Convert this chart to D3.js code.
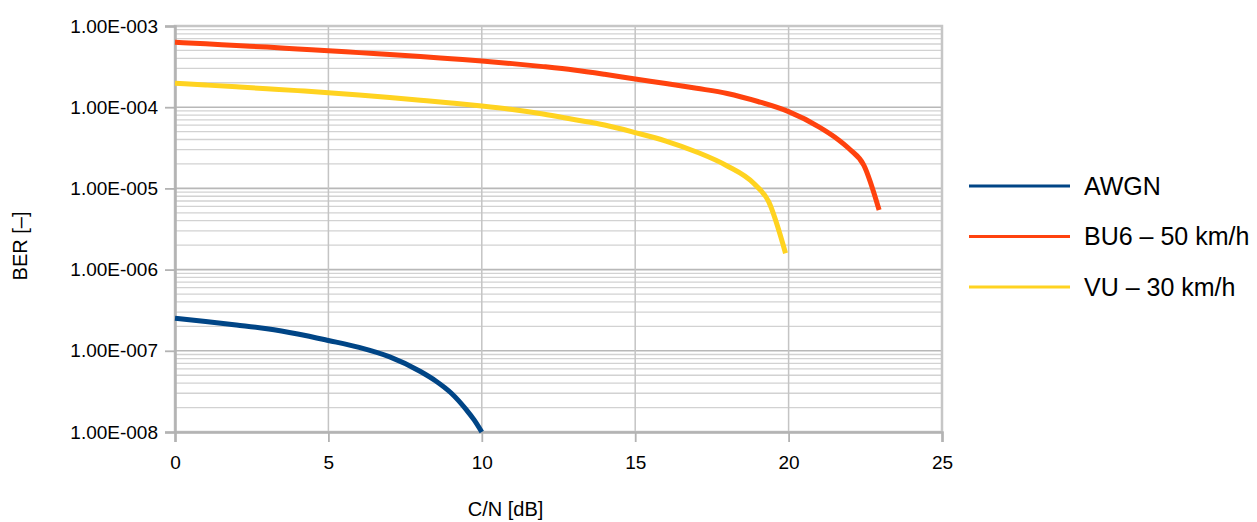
<!DOCTYPE html>
<html>
<head>
<meta charset="utf-8">
<script src="https://cdn.jsdelivr.net/npm/d3@7"></script>
<style>
  html, body { margin: 0; padding: 0; background: #fff; }
  svg { display: block; font-family: "Liberation Sans", Arial, sans-serif; }
</style>
</head>
<body>
<svg id="chart" width="1257" height="522"></svg>
<script>
// ---- data ----
const seriesNames = ["AWGN", "BU6 \u2013 50 km/h", "VU \u2013 30 km/h"];
const seriesColors = ["#004586", "#ff420e", "#ffd320"];

const awgnX = [0, 1, 2, 3, 4, 5, 6, 7, 8, 8.5, 9, 9.5, 9.75, 10];
const awgnY = [2.51e-7, 2.30e-7, 2.08e-7, 1.87e-7, 1.61e-7, 1.34e-7, 1.10e-7, 8.4e-8, 5.56e-8, 4.25e-8, 3.02e-8, 1.87e-8, 1.41e-8, 1.0e-8];

const bu6X = [0, 1, 2, 3, 4, 5, 6, 7, 8, 9, 10, 11, 12, 13, 14, 15, 16, 17, 18, 19, 20, 21, 21.5, 22, 22.45, 22.95];
const bu6Y = [6.30e-4, 6.03e-4, 5.75e-4, 5.50e-4, 5.22e-4, 4.97e-4, 4.70e-4, 4.46e-4, 4.21e-4, 3.95e-4, 3.71e-4, 3.44e-4, 3.16e-4, 2.87e-4, 2.54e-4, 2.22e-4, 1.96e-4, 1.71e-4, 1.476e-4, 1.175e-4, 8.81e-5, 5.70e-5, 4.30e-5, 3.01e-5, 1.94e-5, 5.42e-6];

const vuX = [0, 1, 2, 3, 4, 5, 6, 7, 8, 9, 10, 11, 12, 13, 14, 15, 16, 17, 18, 18.86, 19.35, 19.9];
const vuY = [1.968e-4, 1.875e-4, 1.782e-4, 1.690e-4, 1.600e-4, 1.510e-4, 1.413e-4, 1.315e-4, 1.219e-4, 1.127e-4, 1.035e-4, 9.37e-5, 8.24e-5, 7.06e-5, 6.04e-5, 4.87e-5, 3.83e-5, 2.81e-5, 1.89e-5, 1.156e-5, 6.86e-6, 1.59e-6];

const xTicks = [0, 5, 10, 15, 20, 25];
const yTicks = [1e-3, 1e-4, 1e-5, 1e-6, 1e-7, 1e-8];
const yTickLabels = ["1.00E-003", "1.00E-004", "1.00E-005", "1.00E-006", "1.00E-007", "1.00E-008"];
const xTitle = "C/N [dB]";
const yTitle = "BER [\u2013]";

// ---- layout ----
const svg = d3.select("#chart");
const L = 175, R = 942, T = 26, B = 432;
const x = d3.scaleLinear().domain([0, 25]).range([L, R]);
const y = d3.scaleLog().domain([1e-8, 1e-3]).range([B, T]);

// minor grid
const minor = [];
for (let e = -8; e < -3; e++) for (let m = 2; m <= 9; m++) minor.push(m * Math.pow(10, e));
svg.append("g").selectAll("line").data(minor).join("line")
  .attr("x1", L).attr("x2", R)
  .attr("y1", d => y(d)).attr("y2", d => y(d))
  .attr("stroke", "#d2d2d2").attr("stroke-width", 1.3);

// major horizontal grid
svg.append("g").selectAll("line").data(yTicks).join("line")
  .attr("x1", L).attr("x2", R)
  .attr("y1", d => y(d)).attr("y2", d => y(d))
  .attr("stroke", "#b8b8b8").attr("stroke-width", 1.6);

// vertical grid
svg.append("g").selectAll("line").data(xTicks).join("line")
  .attr("x1", d => x(d)).attr("x2", d => x(d))
  .attr("y1", T).attr("y2", B)
  .attr("stroke", "#c4c4c4").attr("stroke-width", 1.5);

// frame
svg.append("rect").attr("x", L).attr("y", T).attr("width", R - L).attr("height", B - T)
  .attr("fill", "none").attr("stroke", "#c6c6c6").attr("stroke-width", 2.5);

// axes
const yAxis = d3.axisLeft(y).tickValues(yTicks)
  .tickFormat((d, i) => yTickLabels[i]).tickSize(10).tickPadding(7);
const gy = svg.append("g").attr("transform", `translate(${L},0)`).call(yAxis);
gy.select(".domain").attr("stroke", "#b3b3b3").attr("stroke-width", 2.5);
gy.selectAll(".tick line").attr("stroke", "#b3b3b3").attr("stroke-width", 1.8);
gy.selectAll(".tick text").attr("font-size", 19).attr("fill", "#000")
  .attr("font-family", "Liberation Sans, Arial, sans-serif");

const xAxis = d3.axisBottom(x).tickValues(xTicks).tickFormat(d3.format("d"))
  .tickSize(10).tickPadding(14);
const gx = svg.append("g").attr("transform", `translate(0,${B})`).call(xAxis);
gx.select(".domain").attr("stroke", "#b3b3b3").attr("stroke-width", 2.5);
gx.selectAll(".tick line").attr("stroke", "#b3b3b3").attr("stroke-width", 1.8);
gx.selectAll(".tick text").attr("font-size", 19).attr("fill", "#000")
  .attr("font-family", "Liberation Sans, Arial, sans-serif");

// series
const series = [
  { name: seriesNames[0], color: seriesColors[0], xs: awgnX, ys: awgnY },
  { name: seriesNames[1], color: seriesColors[1], xs: bu6X, ys: bu6Y },
  { name: seriesNames[2], color: seriesColors[2], xs: vuX, ys: vuY }
];
const line = d3.line().x(d => x(d[0])).y(d => y(d[1])).curve(d3.curveMonotoneX);
svg.append("g").selectAll("path").data(series).join("path")
  .attr("d", s => line(s.xs.map((v, i) => [v, s.ys[i]])))
  .attr("fill", "none").attr("stroke", s => s.color)
  .attr("stroke-width", 5).attr("stroke-linejoin", "round");

// axis titles
svg.append("text").attr("x", (L + R) / 2 - 53).attr("y", 516)
  .attr("text-anchor", "middle").attr("font-size", 20).attr("fill", "#000").text(xTitle);
svg.append("text").attr("transform", "translate(27,246) rotate(-90)")
  .attr("text-anchor", "middle").attr("font-size", 20).attr("fill", "#000").text(yTitle);

// legend
const lg = svg.append("g").selectAll("g").data(series).join("g")
  .attr("transform", (d, i) => `translate(969,${186 + i * 50.5})`);
lg.append("line").attr("x1", 0).attr("x2", 101).attr("y1", 0).attr("y2", 0)
  .attr("stroke", d => d.color).attr("stroke-width", 3);
lg.append("text").attr("x", 115).attr("y", 0).attr("dy", "0.35em")
  .attr("font-size", 25).attr("fill", "#000").text(d => d.name);
</script>
</body>
</html>
